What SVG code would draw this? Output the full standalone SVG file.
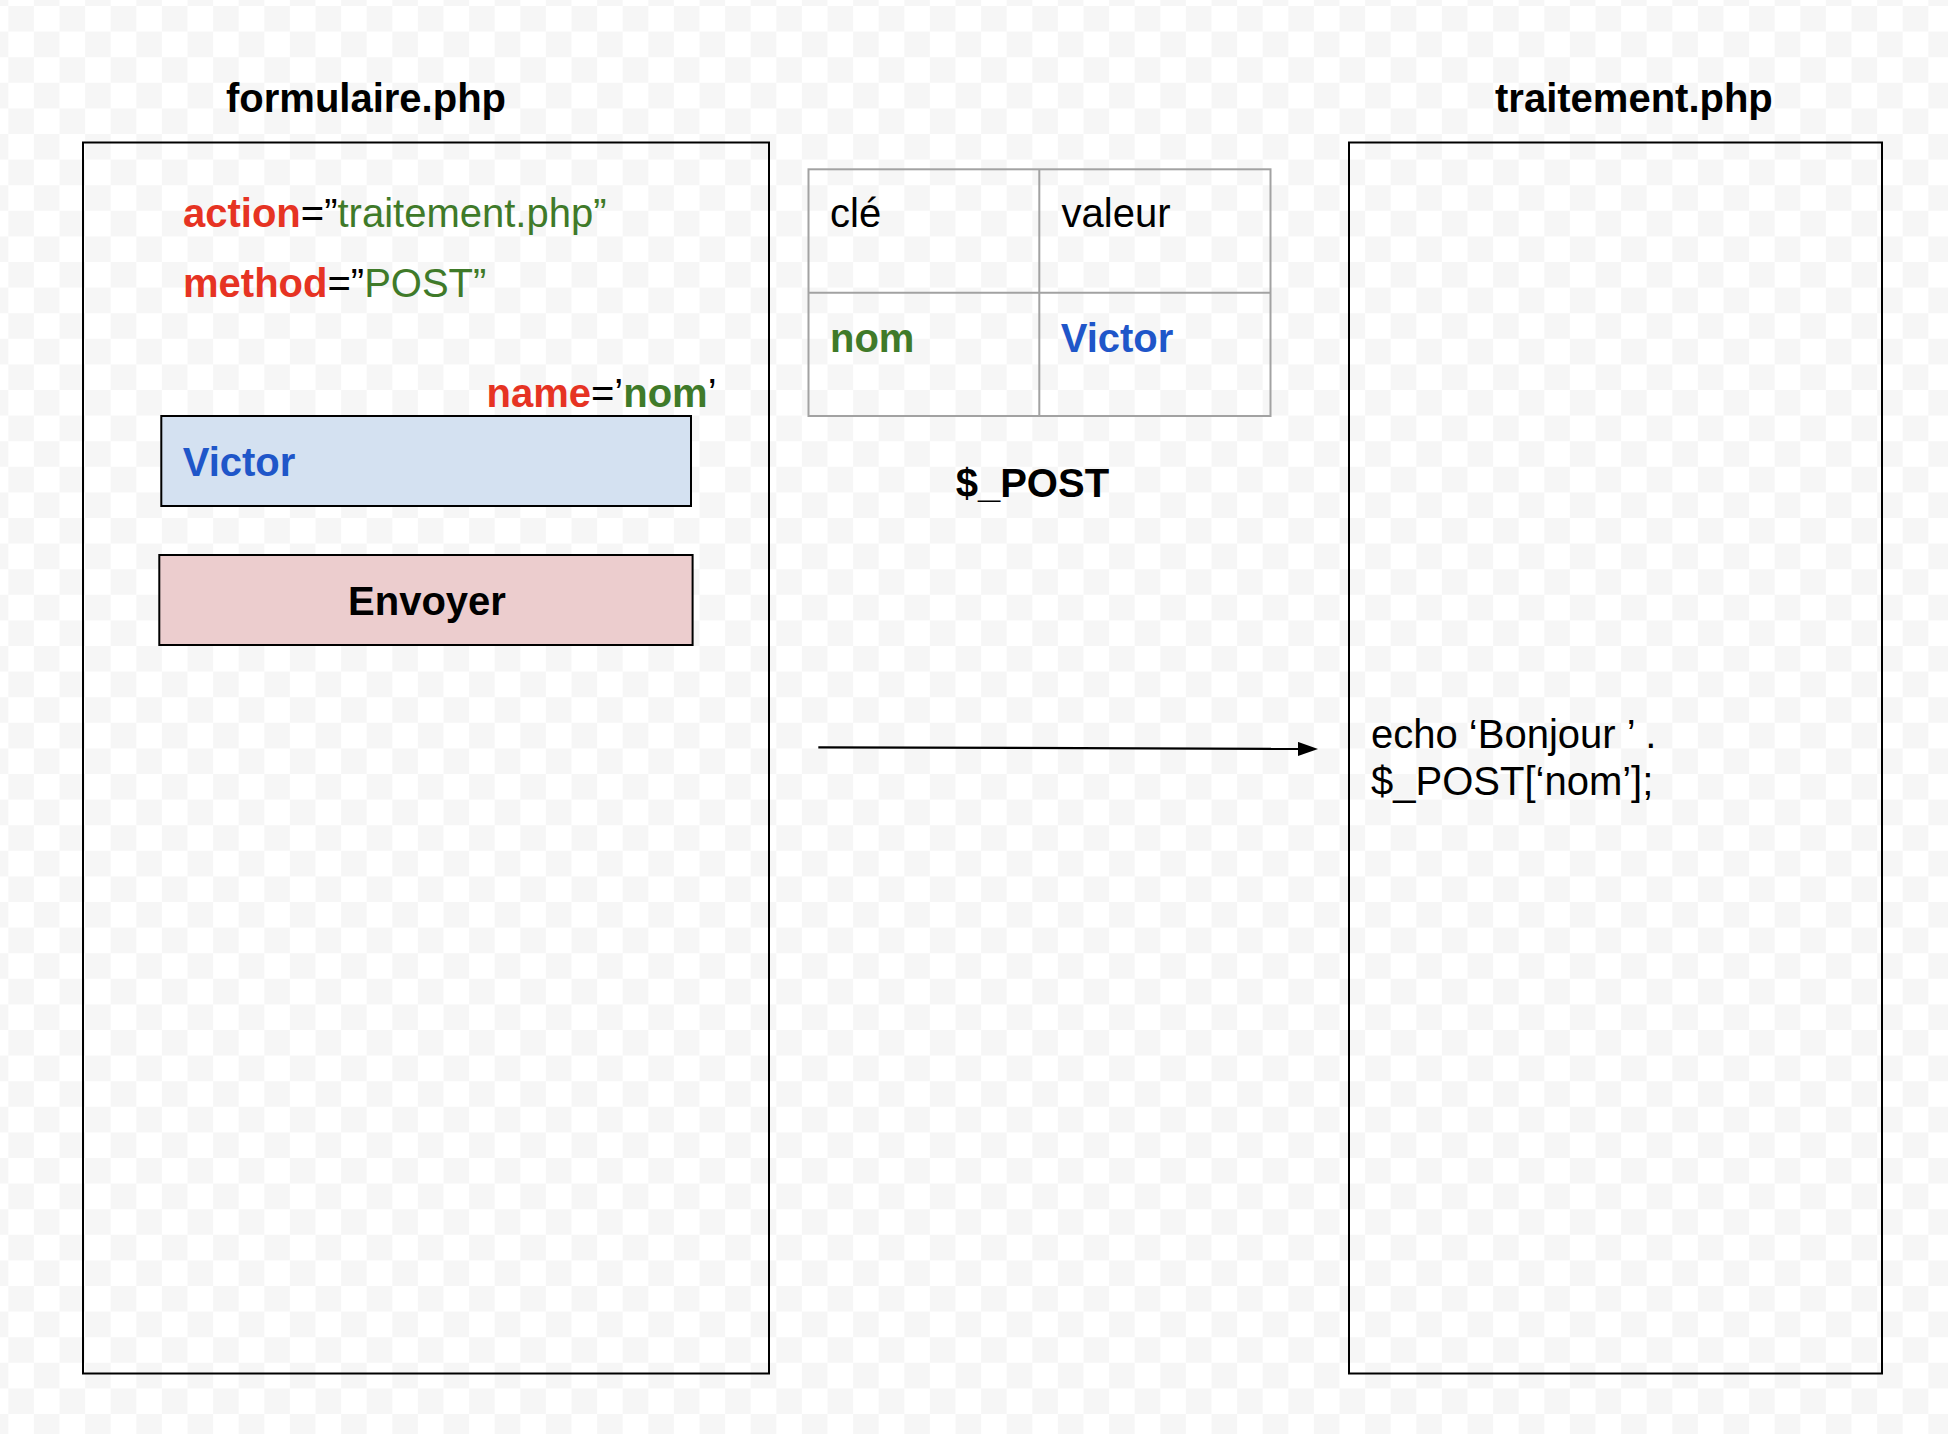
<svg xmlns="http://www.w3.org/2000/svg" width="1948" height="1434" viewBox="0 0 1948 1434">
  <defs>
    <pattern id="checker" patternUnits="userSpaceOnUse" x="8.3" y="6" width="51.2" height="51.2">
      <rect x="0" y="0" width="25.6" height="25.6" fill="#f6f6f6"/>
      <rect x="25.6" y="25.6" width="25.6" height="25.6" fill="#f6f6f6"/>
    </pattern>
    <marker id="arrow" markerUnits="userSpaceOnUse" viewBox="0 0 20 14" markerWidth="20" markerHeight="14" refX="0" refY="7" orient="auto">
      <path d="M0,0 L20,7 L0,14 z" fill="#000"/>
    </marker>
    <style>
      text { font-family: "Liberation Sans", Arial, sans-serif; font-size: 40px; fill: #000; }
      .b { font-weight: bold; }
      .red { fill: #e63323; }
      .green { fill: #3f7a29; }
      .blue { fill: #1f56c9; }
      .frame { fill: none; stroke: #000; stroke-width: 2; }
      .cell { fill: none; stroke: #a2a2a2; stroke-width: 2; }
      .title { font-weight: bold; font-size: 40px; }
    </style>
  </defs>

  <rect x="0" y="0" width="1948" height="1434" fill="#ffffff"/>
  <rect x="0" y="0" width="1948" height="1434" fill="url(#checker)"/>

  <g id="formulaire">
    <text class="title" x="226" y="111.7">formulaire.php</text>
    <rect class="frame" x="83" y="142.5" width="686" height="1231"/>
    <text x="183" y="227"><tspan class="b red">action</tspan>=”<tspan class="green">traitement.php”</tspan></text>
    <text x="183" y="296.5"><tspan class="b red">method</tspan>=”<tspan class="green">POST”</tspan></text>
  </g>

  <g id="champ-nom">
    <text x="486.5" y="407"><tspan class="b red">name</tspan>=’<tspan class="b green">nom</tspan>’</text>
    <rect x="161.3" y="416" width="529.7" height="90" fill="#d4e1f1" stroke="#000" stroke-width="2"/>
    <text class="b blue" x="182.7" y="476">Victor</text>
  </g>

  <g id="bouton-envoyer">
    <rect x="159.3" y="555" width="533.3" height="90" fill="#eccdce" stroke="#000" stroke-width="2"/>
    <text class="b" x="427" y="615" text-anchor="middle">Envoyer</text>
  </g>

  <g id="post-table">
    <rect class="cell" x="808.5" y="169.3" width="462" height="246.7"/>
    <line class="cell" x1="1039.3" y1="169.3" x2="1039.3" y2="416"/>
    <line class="cell" x1="808.5" y1="292.7" x2="1270.5" y2="292.7"/>
    <text x="830" y="227.3">clé</text>
    <text x="1061.5" y="227.3">valeur</text>
    <text class="b green" x="830" y="351.7">nom</text>
    <text class="b blue" x="1060.7" y="351.7">Victor</text>
    <text class="b" x="955.7" y="496.7">$_POST</text>
  </g>

  <g id="traitement">
    <text class="title" x="1495" y="111.7">traitement.php</text>
    <rect class="frame" x="1349" y="142.5" width="533" height="1231"/>
    <text x="1371" y="748.3" font-size="39">echo ‘Bonjour ’ .</text>
    <text x="1371" y="795" font-size="39">$_POST[‘nom’];</text>
  </g>

  <g id="connectors">
    <path d="M818.3,747.3 L1298,748.9" fill="none" stroke="#000" stroke-width="2.2" marker-end="url(#arrow)"/>
  </g>
</svg>
